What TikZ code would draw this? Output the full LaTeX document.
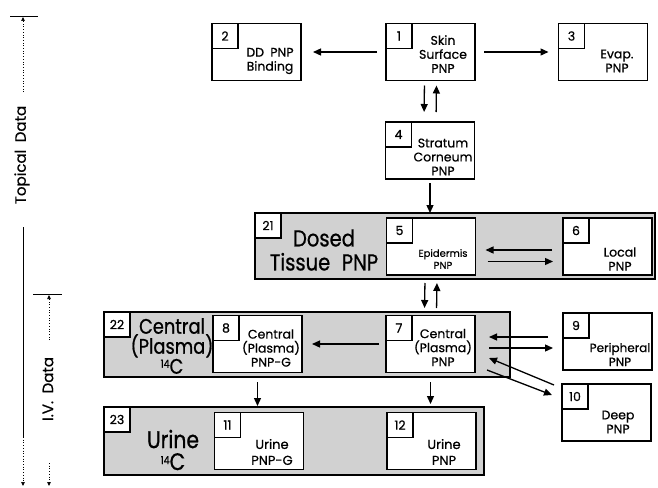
\documentclass[tikz,border=0pt]{standalone}
\usepackage{fontspec}
\setmainfont{Poppins}[FakeBold=0.6]
\newfontfamily\bigfont{Poppins}[FakeStretch=0.85, FakeBold=0.8]
\usetikzlibrary{arrows.meta}

\tikzset{
  comp/.style={draw, fill=white, line width=1.3pt, outer sep=0pt, inner sep=0pt,
    minimum width=89pt, minimum height=57pt},
  pool/.style={draw, fill=black!18, line width=1.3pt, outer sep=0pt, inner sep=0pt},
  numbox/.style={draw, fill=white, line width=1.1pt, outer sep=0pt, inner sep=0pt,
    anchor=north west, minimum width=26pt, minimum height=25pt,
    font=\fontsize{12.5}{14}\selectfont},
  lbl/.style={align=center, inner sep=0pt, font=\fontsize{12.5}{14}\selectfont},
  biglbl/.style={align=center, inner sep=0pt},
  flow/.style={-{Triangle[length=8pt,width=7pt]}, line width=1.3pt},
  axis/.style={line width=0.7pt},
  axistip/.style={-{Triangle[length=4pt,width=3.5pt]}},
  axistxt/.style={rotate=90, inner sep=0pt, font=\fontsize{15}{15}\selectfont},
}
\newcommand{\isotope}{{\fontsize{11}{11}\selectfont\raisebox{6pt}{14}}C}

\begin{document}
\begin{tikzpicture}[x=1pt, y=-1pt]
    \useasboundingbox (0,0) rectangle (658,487);

    % left scale: topical and i.v. data
    \draw[axis] (10,16) -- (38,16);
    \draw[axis, dotted, axistip] (23,92) -- (23,17);
    \node[axistxt] (topical) at (22,155) {Topical\enspace Data};
    \draw[axis] (23,227) -- (23,437);
    \draw[axis, dotted, axistip] (23,437) -- (23,486);
    \draw[axis] (33,294) -- (62,294);
    \draw[axis, dotted, axistip] (49,340) -- (49,295);
    \node[axistxt] (ivdata) at (48,389) {I.V.\enspace Data};
    \draw[axis, dotted, axistip] (49,463) -- (49,486);

    % pooled 14C compartments
    \node[pool, minimum width=400pt, minimum height=66pt] (b21) at (455,246) {};
    \node[pool, minimum width=406pt, minimum height=65pt] (b22) at (307,344.5) {};
    \node[pool, minimum width=380pt, minimum height=68pt] (b23) at (294,441) {};
    \node[numbox] (n21) at (b21.north west) {21};
    \node[numbox] (n22) at (b22.north west) {22};
    \node[numbox] (n23) at (b23.north west) {23};
    \node[biglbl, font=\bigfont\fontsize{23}{24}\selectfont] (t21) at (324,250)
        {Dosed\\Tissue\enspace PNP};
    \node[biglbl, font=\bigfont\fontsize{21}{20}\selectfont] (t22) at (172,346)
        {Central\\(Plasma)\\\isotope};
    \node[biglbl, font=\bigfont\fontsize{24}{22}\selectfont] (t23) at (173,450)
        {Urine\\\isotope};

    % PNP compartments
    \node[comp] (c1) at (430.5,52) {};
    \node[comp] (c2) at (256.5,52) {};
    \node[comp] (c3) at (603,52) {};
    \node[comp] (c4) at (430,150.5) {};
    \node[comp] (c5) at (431,246.5) {};
    \node[comp] (c6) at (607.5,246.5) {};
    \node[comp] (c7) at (430.5,344) {};
    \node[comp] (c8) at (257.5,344) {};
    \node[comp] (c9) at (607.5,341.5) {};
    \node[comp] (c10) at (606.5,412.5) {};
    \node[comp] (c11) at (259,441) {};
    \node[comp] (c12) at (431.5,441) {};
    \foreach \i in {1,...,12}
        \node[numbox] (n\i) at (c\i.north west) {\i};

    \node[lbl] (t1) at (443,54) {Skin\\Surface\\PNP};
    \node[lbl] (t2) at (270,61) {DD\enspace PNP\\Binding};
    \node[lbl] (t3) at (617,61) {Evap.\\PNP};
    \node[lbl] (t4) at (443,157) {Stratum\\Corneum\\PNP};
    \node[lbl, font=\fontsize{10}{12}\selectfont] (t5) at (443,259) {Epidermis\\PNP};
    \node[lbl] (t6) at (620,259) {Local\\PNP};
    \node[lbl] (t7) at (443,347.5) {Central\\(Plasma)\\PNP};
    \node[lbl] (t8) at (271,348) {Central\\(Plasma)\\PNP-G};
    \node[lbl, font=\fontsize{12}{14}\selectfont] (t9) at (620,354.5) {Peripheral\\PNP};
    \node[lbl] (t10) at (618,422) {Deep\\PNP};
    \node[lbl, font=\fontsize{13}{16}\selectfont] (t11) at (272,452) {Urine\\PNP-G};
    \node[lbl, font=\fontsize{13}{16}\selectfont] (t12) at (444,452) {Urine\\PNP};

    % transfers
    \draw[flow, shorten <=9pt, shorten >=12pt] (c1) -- (c2);
    \draw[flow, shorten <=9pt, shorten >=10pt] (c1) -- (c3);
    \draw[flow, shorten <=5pt, shorten >=10pt] ([xshift=-6pt]c1.south) -- ([xshift=-6pt]c4.north);
    \draw[flow, shorten <=10pt, shorten >=5pt] ([xshift=6pt]c4.north) -- ([xshift=6pt]c1.south);
    \draw[flow, shorten <=4pt] (c4.south) -- (c4.south |- b21.north);
    \draw[flow, shorten <=11pt, shorten >=10pt] ([yshift=-3.5pt]c6.west) -- ([yshift=-3.5pt]c5.east);
    \draw[flow, shorten <=12pt, shorten >=10pt] ([yshift=-15pt]c5.east) -- ([yshift=-15pt]c6.west);
    \draw[flow, shorten <=4pt, shorten >=4pt] ([xshift=-6pt]c5.south |- b21.south) -- ([xshift=-6pt]c7.north |- b22.north);
    \draw[flow, shorten <=4pt, shorten >=4pt] ([xshift=6pt]c7.north |- b22.north) -- ([xshift=6pt]c5.south |- b21.south);
    \draw[flow, shorten <=7pt, shorten >=10pt] (c7) -- (c8);
    \draw[flow, shorten <=15pt, shorten >=14pt] ([yshift=4.5pt]c9.west) -- ([yshift=4.5pt]c9.west -| c7.east);
    \draw[flow, shorten <=14pt, shorten >=10pt] ([yshift=-6.5pt]c9.west -| c7.east) -- ([yshift=-6.5pt]c9.west);
    \draw[flow] ([shift={(-8,1)}]c10.north west) -- ([shift={(14,14)}]c7.east);
    \draw[flow] ([shift={(12,26)}]c7.east) -- ([shift={(-10,11)}]c10.north west);
    \draw[flow, shorten <=5pt, shorten >=3pt] (c7.south |- b22.south) -- (c7.south |- b23.north);
    \draw[flow, shorten <=5pt, shorten >=1pt] (c8.south |- b22.south) -- (c8.south |- b23.north);
\end{tikzpicture}
\end{document}
